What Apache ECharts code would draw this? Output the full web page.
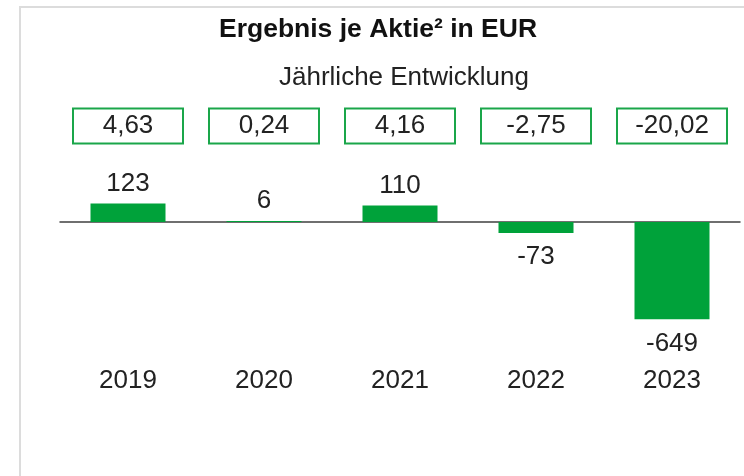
<!DOCTYPE html>
<html>
<head>
<meta charset="utf-8">
<script src="https://cdn.jsdelivr.net/npm/echarts@6/dist/echarts.min.js"></script>
<style>
  html, body { margin: 0; padding: 0; background: #fff; overflow: hidden; }
  .frame {
    position: absolute; left: 19px; top: 6px; width: 800px; height: 600px;
    border: 2px solid #dcdcdc; box-sizing: border-box;
  }
  #chart { position: absolute; left: 0; top: 0; width: 744px; height: 476px; }
</style>
</head>
<body>
<div class="frame"></div>
<div id="chart"></div>
<script>
// Daten
const years = ["2019", "2020", "2021", "2022", "2023"];
const ergebnis = [123, 6, 110, -73, -649];
const epsLabels = ["4,63", "0,24", "4,16", "-2,75", "-20,02"];

const green = "#00a23a";
const textColor = "#222";
const font = "Liberation Sans, Arial, sans-serif";
const fs = 26;

const myChart = echarts.init(document.getElementById("chart"), null, { renderer: "canvas" });

// Beschriftung oberhalb bzw. unterhalb der Balken
const barData = ergebnis.map((v) => ({
  value: v,
  label: {
    position: v >= 0 ? "top" : "bottom",
    distance: v >= 0 ? 7 : 11,
  },
}));

const option = {
  backgroundColor: "transparent",
  animation: false,
  textStyle: { fontFamily: font },
  title: [
    {
      text: "Ergebnis je Aktie² in EUR",
      left: 373,
      top: 11,
      textAlign: "center",
      textStyle: { fontSize: 26.5, fontWeight: "bold", color: "#111", fontFamily: font },
    },
    {
      text: "Jährliche Entwicklung",
      left: 399,
      top: 60,
      textAlign: "center",
      textStyle: { fontSize: fs, fontWeight: "normal", color: textColor, fontFamily: font },
    },
  ],
  grid: [
    { left: 60, right: 4, top: 192, height: 150 },
    { left: 60, right: 4, top: 109, height: 34 },
  ],
  xAxis: [
    {
      gridIndex: 0,
      type: "category",
      position: "bottom",
      data: years,
      axisLine: { onZero: true, lineStyle: { color: "#404040", width: 1.5 } },
      axisTick: { show: false },
      axisLabel: { show: false },
    },
    {
      gridIndex: 0,
      type: "category",
      position: "bottom",
      data: years,
      axisLine: { show: false, onZero: false },
      axisTick: { show: false },
      axisLabel: { margin: 26, fontSize: fs, color: textColor, fontFamily: font },
    },
    {
      gridIndex: 1,
      type: "category",
      data: years,
      show: false,
    },
  ],
  yAxis: [
    { gridIndex: 0, type: "value", min: -800, max: 200, show: false },
    { gridIndex: 1, type: "value", min: 0, max: 1, show: false },
  ],
  series: [
    {
      type: "bar",
      xAxisIndex: 0,
      yAxisIndex: 0,
      barWidth: 75,
      data: barData,
      itemStyle: { color: green },
      label: {
        show: true,
        fontSize: fs,
        color: textColor,
        fontFamily: font,
      },
    },
    {
      // Kästchen mit Ergebnis je Aktie
      type: "scatter",
      xAxisIndex: 2,
      yAxisIndex: 1,
      symbol: "rect",
      symbolSize: 1,
      silent: true,
      data: years.map((y) => [y, 0.5]),
      itemStyle: { opacity: 1, color: "rgba(0,0,0,0)" },
      label: {
        show: true,
        position: "inside",
        formatter: (p) => epsLabels[p.dataIndex],
        fontSize: fs,
        color: textColor,
        fontFamily: font,
        opacity: 1,
        textBorderWidth: 0,
        backgroundColor: "#fff",
        borderColor: "#1aa64a",
        borderWidth: 2,
        width: 108,
        height: 30,
        lineHeight: 30,
        align: "center",
        verticalAlign: "middle",
        padding: [3, 0, 0, 0],
      },
    },
  ],
};

myChart.setOption(option);
</script>
</body>
</html>
